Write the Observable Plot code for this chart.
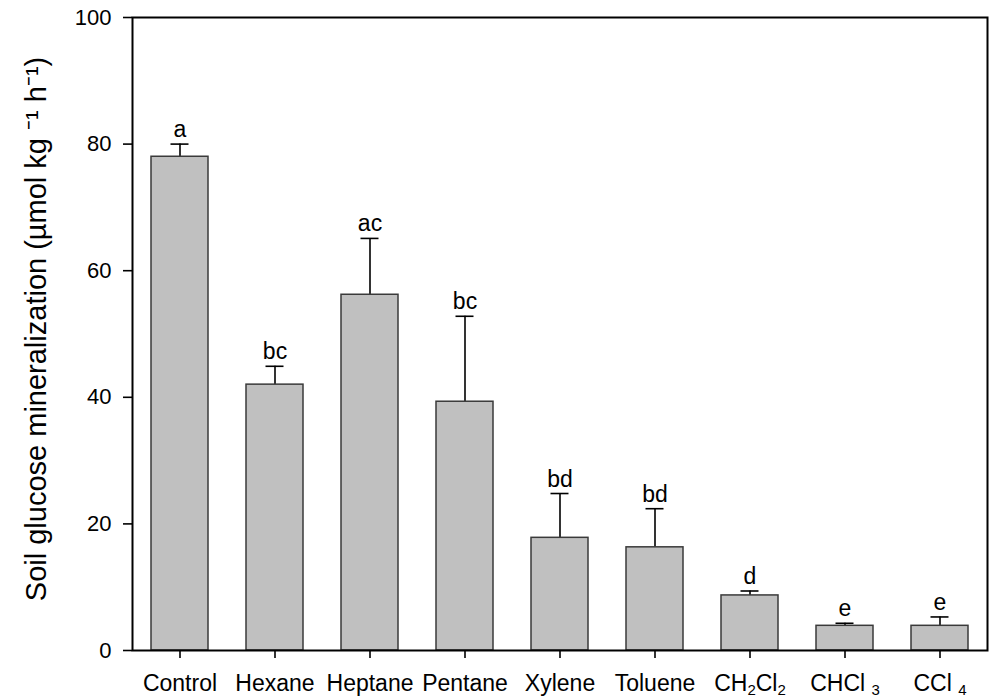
<!DOCTYPE html>
<html>
<head>
<meta charset="utf-8">
<script src="https://cdn.jsdelivr.net/npm/d3@7"></script>
<script src="https://cdn.jsdelivr.net/npm/@observablehq/plot@0.6"></script>
<style>
  html, body { margin: 0; padding: 0; background: #fff; }
  #chart { width: 990px; height: 698px; }
</style>
</head>
<body>
<div id="chart"></div>
<script>
const names = ["Control", "Hexane", "Heptane", "Pentane", "Xylene", "Toluene", "CH₂Cl₂", "CHCl ₃", "CCl ₄"];
const means = [78.0, 42.0, 56.2, 39.3, 17.8, 16.3, 8.7, 3.9, 3.9];
const errs = [2.0, 2.9, 8.9, 13.5, 7.0, 6.1, 0.7, 0.4, 1.4];
const letters = ["a", "bc", "ac", "bc", "bd", "bd", "d", "e", "e"];
const yTicks = [0, 20, 40, 60, 80, 100];
const yLabel = "Soil glucose mineralization (µmol kg ⁻¹ h⁻¹)";

const data = names.map((name, i) => ({name, mean: means[i], err: errs[i], top: means[i] + errs[i], letter: letters[i]}));

const FONT = "'Liberation Sans', Arial, sans-serif";

const plot = Plot.plot({
  width: 990,
  height: 698,
  marginLeft: 132,
  marginRight: 3,
  marginTop: 17,
  marginBottom: 48,
  style: {fontFamily: FONT, color: "#000", background: "#fff", overflow: "visible"},
  x: {domain: names, paddingInner: 0.4, paddingOuter: 0.2},
  y: {domain: [0, 100]},
  marks: [
    Plot.ruleX(data, {x: "name", y1: "mean", y2: "top", stroke: "#000", strokeWidth: 1.6}),
    Plot.tickY(data, {x: "name", y: "top", stroke: "#000", strokeWidth: 1.6, insetLeft: 19.5, insetRight: 19.5}),
    Plot.barY(data, {x: "name", y: "mean", fill: "#c0c0c0", stroke: "#3a3a3a", strokeWidth: 1.5}),
    Plot.text(data, {x: "name", y: "top", text: "letter", dy: -7, lineAnchor: "bottom", fontSize: 23, fill: "#000"}),
    Plot.frame({stroke: "#000", strokeWidth: 2}),
    Plot.axisY({ticks: yTicks, tickSize: 9, tickPadding: 12, fontSize: 22, label: null, strokeWidth: 1.6}),
    Plot.axisX({tickSize: 8, tickPadding: 16, fontSize: 23, label: null, strokeWidth: 1.6}),
    Plot.text([yLabel], {frameAnchor: "left", text: d => d, rotate: -90, dx: -96, dy: -5, fontSize: 29, textAnchor: "middle", lineAnchor: "middle", ariaLabel: "ylabel", fill: "#000"})
  ]
});

document.getElementById("chart").appendChild(plot);

const subMap = {"₂": "2", "₃": "3", "₄": "4"};
const supMap = {"⁻": "-", "¹": "1"};

function richify(textEl, map, shiftPx, sizePx) {
  const s = textEl.textContent;
  textEl.textContent = "";
  const ns = "http://www.w3.org/2000/svg";
  let buf = "";
  let inSpecial = false;
  let shifted = false;
  const flush = () => {
    if (!buf) return;
    const t = document.createElementNS(ns, "tspan");
    t.textContent = buf;
    if (inSpecial) {
      t.setAttribute("dy", shiftPx);
      t.setAttribute("font-size", sizePx);
      shifted = true;
    } else if (shifted) {
      t.setAttribute("dy", -shiftPx);
      shifted = false;
    }
    textEl.appendChild(t);
    buf = "";
  };
  for (const ch of s) {
    const special = ch in map;
    if (special !== inSpecial) { flush(); inSpecial = special; }
    buf += special ? map[ch] : ch;
  }
  flush();
}

d3.select(plot).selectAll("g[aria-label='x-axis tick label'] text").each(function() {
  if (/[₂₃₄]/.test(this.textContent)) richify(this, subMap, 4, 15);
});
d3.select(plot).selectAll("g[aria-label='ylabel'] text").each(function() {
  richify(this, supMap, -10, 18);
});
</script>
</body>
</html>
